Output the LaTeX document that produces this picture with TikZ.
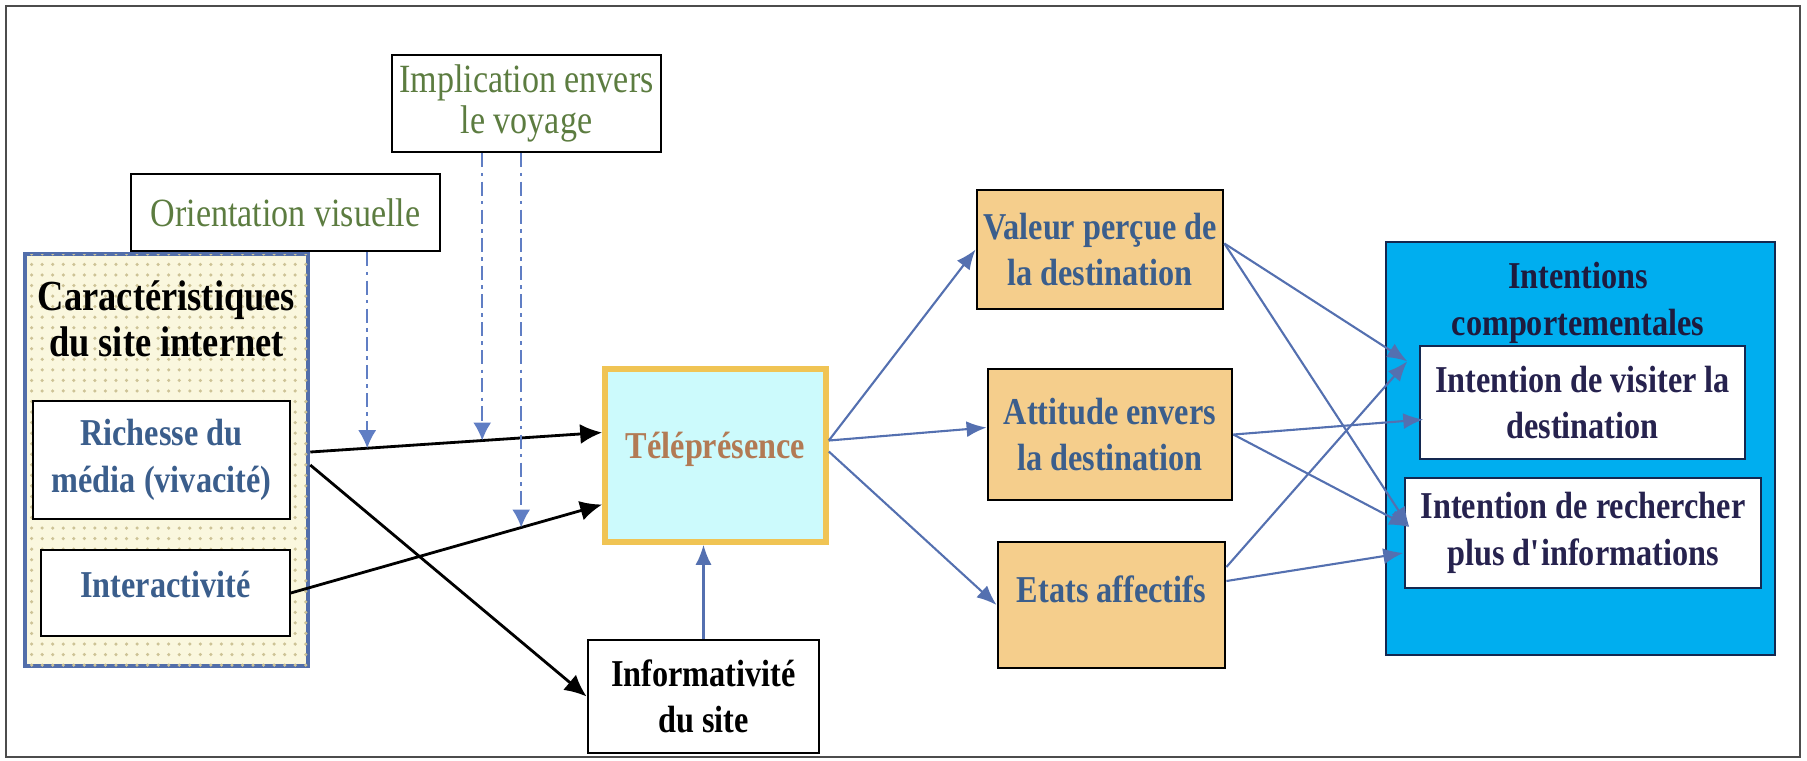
\documentclass[tikz,border=0pt]{standalone}
\usepackage{fontspec}
\setmainfont{Liberation Serif}[FakeStretch=0.85]
\usetikzlibrary{arrows.meta,calc,patterns}
\definecolor{txtblue}{RGB}{59,94,140}
\definecolor{txtnavy}{RGB}{38,34,78}
\definecolor{txtgreen}{RGB}{92,124,64}
\definecolor{txttele}{RGB}{178,122,84}
\definecolor{telefill}{RGB}{204,250,252}
\definecolor{teleline}{RGB}{240,196,84}
\definecolor{sandfill}{RGB}{245,206,140}
\definecolor{intfill}{RGB}{0,174,239}
\definecolor{intline}{RGB}{20,40,80}
\definecolor{siteline}{RGB}{82,110,170}
\definecolor{sitefill}{RGB}{250,247,222}
\definecolor{sitedots}{RGB}{205,195,150}
\definecolor{arrblue}{RGB}{84,112,176}
\definecolor{modblue}{RGB}{96,126,196}
\newcommand\labfont{\fontsize{10.8}{13.2}\selectfont\bfseries}
\newcommand\sitefont{\fontsize{12.2}{13.2}\selectfont\bfseries}
\newcommand\modfont{\fontsize{11.4}{11.8}\selectfont}

\begin{document}
\begin{tikzpicture}[x=0.1mm, y=-0.1mm,
    box/.style={draw, rectangle, align=center, inner sep=1pt, font=\labfont},
    sand/.style={box, fill=sandfill, text=txtblue, line width=0.8pt},
    modbox/.style={box, font=\modfont, text=txtgreen, line width=0.8pt},
    blackarr/.style={line width=0.8pt, -{Latex[length=2.2mm,width=2mm]}},
    bluearr/.style={arrblue, line width=0.6pt, -{Latex[length=2mm,width=1.6mm]}},
    modarr/.style={modblue, line width=0.5pt, dash pattern=on 4pt off 1.5pt on 1pt off 1.5pt, -{Latex[length=1.8mm,width=1.8mm]}}]
    \useasboundingbox (0,0) rectangle (1807,760);
    \draw[black!70, line width=0.7pt] (6,6) rectangle (1800,757);

    \node[modbox, minimum width=26.9mm, minimum height=9.7mm] (impl) at (526.5,103.5) {Implication envers\\le voyage};
    \node[modbox, minimum width=30.9mm, minimum height=7.7mm] (orient) at (285.5,212.5) {Orientation visuelle};

    \node[draw=siteline, line width=1.3pt, fill=sitefill, postaction={pattern=dots, pattern color=sitedots}, minimum width=28.3mm, minimum height=41.2mm] (site) at (166.5,460) {};
    \node[font=\sitefont, align=center] (sitetitle) at (166.5,319) {Caractéristiques\\du site internet};
    \node[box, fill=white, text=txtblue, minimum width=25.7mm, minimum height=11.8mm] (rich) at (161.5,460) {Richesse du\\média (vivacité)};
    \node[box, fill=white, text=txtblue, minimum width=24.9mm, minimum height=8.6mm, text height=2.6mm, text depth=1.7mm] (inter) at (165.5,593) {Interactivité};

    \node[box, fill=telefill, draw=teleline, line width=1.6pt, text=txttele, minimum width=22.1mm, minimum height=17.3mm, text height=2.6mm, text depth=2mm] (tele) at (715.5,455.5) {Téléprésence};
    \node[box, line width=0.8pt, minimum width=23.1mm, minimum height=11.3mm] (inform) at (703.5,696.5) {Informativité\\du site};

    \node[sand, minimum width=24.6mm, minimum height=11.9mm] (valeur) at (1100,249.5) {Valeur perçue de\\la destination};
    \node[sand, minimum width=24.4mm, minimum height=13.1mm] (attitude) at (1110,434.5) {Attitude envers\\la destination};
    \node[sand, minimum width=22.7mm, minimum height=12.6mm, text height=2.6mm, text depth=3.1mm] (etats) at (1111.5,605) {Etats affectifs};

    \node[draw=intline, fill=intfill, line width=0.8pt, minimum width=38.9mm, minimum height=41.3mm] (intent) at (1580.5,448.5) {};
    \node[font=\labfont, text=txtnavy!80!black, align=center] (intitle) at (1578,303) {Intentions\\comportementales};
    \node[box, fill=white, draw=intline, text=txtnavy, minimum width=32.5mm, minimum height=11.3mm] (visiter) at (1582.5,402.5) {Intention de visiter la\\destination};
    \node[box, fill=white, draw=intline, text=txtnavy, minimum width=35.6mm, minimum height=11mm] (recherche) at (1583,533) {Intention de rechercher\\plus d\textquotesingle informations};

    \coordinate (r1) at ($(site.east)+(0,-8)$);
    \coordinate (t1) at ($(tele.west)+(0,-23)$);
    \coordinate (t2) at ($(tele.west)+(0,49)$);
    \coordinate (r3) at ($(site.east)+(0,5)$);
    \draw[blackarr] (r1) -- (t1);
    \draw[blackarr] (inter.east) -- (t2);
    \draw[blackarr] (r3) -- (inform.west);
    \draw[bluearr] (inform.north) -- (inform.north |- tele.south);

    \coordinate (m1) at ($(r1)!0.195!(t1)$);
    \coordinate (m2) at ($(r1)!0.589!(t1)$);
    \coordinate (m3) at ($(inter.east)!0.74!(t2)$);
    \draw[modarr] (m1 |- orient.south) -- (m1);
    \draw[modarr] (m2 |- impl.south) -- (m2);
    \draw[modarr] (m3 |- impl.south) -- (m3);

    \draw[bluearr] ($(tele.east)+(0,-15)$) -- (valeur.west);
    \draw[bluearr] ($(tele.east)+(0,-15)$) -- ($(attitude.west)+(0,-7)$);
    \draw[bluearr] ($(tele.east)+(0,-4)$) -- (etats.west);

    \coordinate (inA) at ($(visiter.north west)+(-12,16)$);
    \coordinate (inV) at ($(visiter.west)+(4,17)$);
    \coordinate (inB) at ($(recherche.west)+(5,-6)$);
    \coordinate (inC) at ($(recherche.west)+(-1,20)$);
    \draw[bluearr] ($(valeur.east)+(0,-6)$) -- (inA);
    \draw[bluearr] ($(valeur.east)+(0,-6)$) -- (inB);
    \draw[bluearr] (attitude.east) -- (inV);
    \draw[bluearr] (attitude.east) -- (inB);
    \draw[bluearr] ($(etats.east)+(0,-38)$) -- (inA);
    \draw[bluearr] ($(etats.east)+(0,-24)$) -- (inC);
\end{tikzpicture}
\end{document}
